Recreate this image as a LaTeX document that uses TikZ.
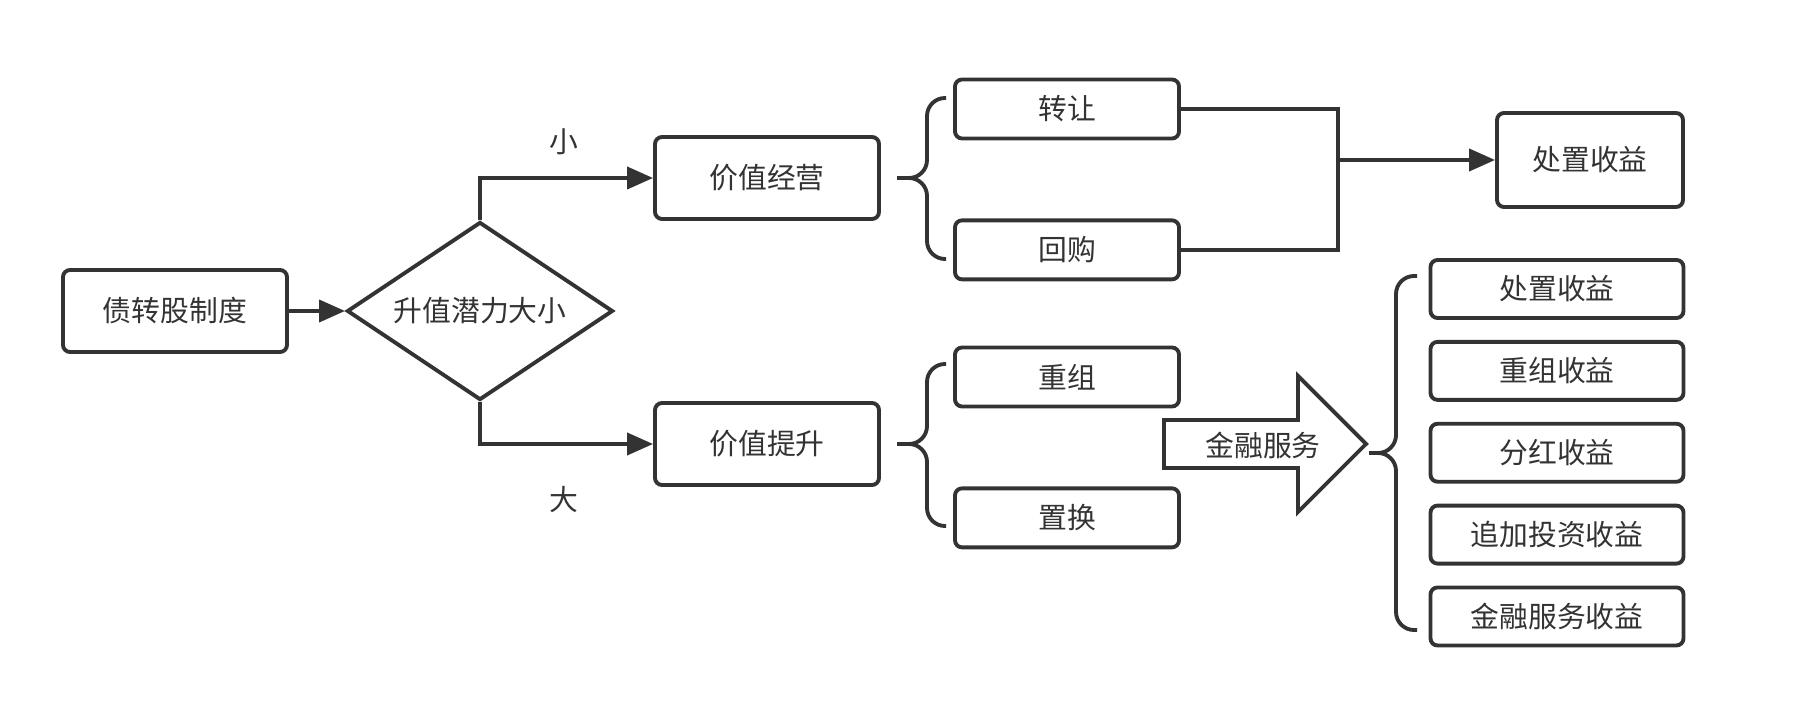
\documentclass[tikz,border=0pt]{standalone}
\usepackage{fontspec}
\setmainfont{Noto Sans CJK SC}
\usetikzlibrary{positioning, shapes.geometric, arrows.meta}
\definecolor{ink}{HTML}{333333}

\begin{document}
\begin{tikzpicture}[
    ink, line width=1.1pt, font=\fontsize{8.2}{10}\selectfont,
    box/.style={draw, rounded corners=2pt, fill=white, minimum width=2.24cm, minimum height=0.82cm},
    subbox/.style={draw, rounded corners=2pt, fill=white, minimum width=2.24cm, minimum height=0.59cm},
    gain/.style={draw, rounded corners=2pt, fill=white, minimum width=2.53cm, minimum height=0.58cm},
    decision/.style={draw, diamond, aspect=1.5, inner sep=0pt, fill=white, minimum width=2.66cm, minimum height=1.78cm},
    arrow/.style={-{Triangle[length=0.26cm, width=0.22cm]}},
    curly/.style={rounded corners=0.18cm}
]
    \useasboundingbox (0, 0) rectangle (18.04, -7.25);
    \node[box] (zzg) at (1.75, -3.11) {债转股制度};
    \node[decision] (sz) at (4.80, -3.11) {升值潜力大小};
    \node[box] (jyy) at (7.67, -1.78) {价值经营};
    \node[box] (tsh) at (7.67, -4.44) {价值提升};
    \node (xiao) at (5.64, -1.42) {小};
    \node (da) at (5.64, -5.00) {大};
    \node[subbox] (zr) at (10.67, -1.09) {转让};
    \node[subbox, below = 0.78cm of zr] (hg) {回购};
    \node[subbox] (cz) at (10.67, -3.77) {重组};
    \node[subbox, below = 0.78cm of cz] (zh) {置换};
    \node[box, minimum width=1.86cm, minimum height=0.94cm] (out) at (15.90, -1.60) {处置收益};
    \coordinate (j) at (13.38, -1.60);
    \draw[fill=white] (11.64, -4.20) -- ++(1.34, 0) -- ++(0, 0.44) -- (13.66, -4.44) -- (12.98, -5.12) -- ++(0, 0.44) -- (11.64, -4.68) -- cycle;
    \node (jr) at (12.63, -4.45) {金融服务};
    \node[gain] (r1) at (15.57, -2.89) {处置收益};
    \node[gain, below = 0.2cm of r1] (r2) {重组收益};
    \node[gain, below = 0.2cm of r2] (r3) {分红收益};
    \node[gain, below = 0.2cm of r3] (r4) {追加投资收益};
    \node[gain, below = 0.2cm of r4] (r5) {金融服务收益};
    \draw[arrow] (zzg) -- (sz);
    \draw[arrow] (sz.north) |- (jyy);
    \draw[arrow] (sz.south) |- (tsh);
    \draw (zr) -| (j) |- (hg);
    \draw[arrow] (j) -- (out);
    \coordinate (t1) at (9.46, -0.98);
    \coordinate (b1) at (9.46, -2.59);
    \coordinate (k1) at (8.97, -1.78);
    \coordinate (t2) at (9.46, -3.64);
    \coordinate (b2) at (9.46, -5.26);
    \coordinate (k2) at (8.97, -4.44);
    \coordinate (t3) at (14.17, -2.76);
    \coordinate (b3) at (14.17, -6.30);
    \coordinate (k3) at (13.69, -4.53);
    \draw[curly] (t1) -| ([xshift=0.3cm]k1) -- (k1) (b1) -| ([xshift=0.3cm]k1) -- (k1);
    \draw[curly] (t2) -| ([xshift=0.3cm]k2) -- (k2) (b2) -| ([xshift=0.3cm]k2) -- (k2);
    \draw[curly] (t3) -| ([xshift=0.27cm]k3) -- (k3) (b3) -| ([xshift=0.27cm]k3) -- (k3);
\end{tikzpicture}
\end{document}
